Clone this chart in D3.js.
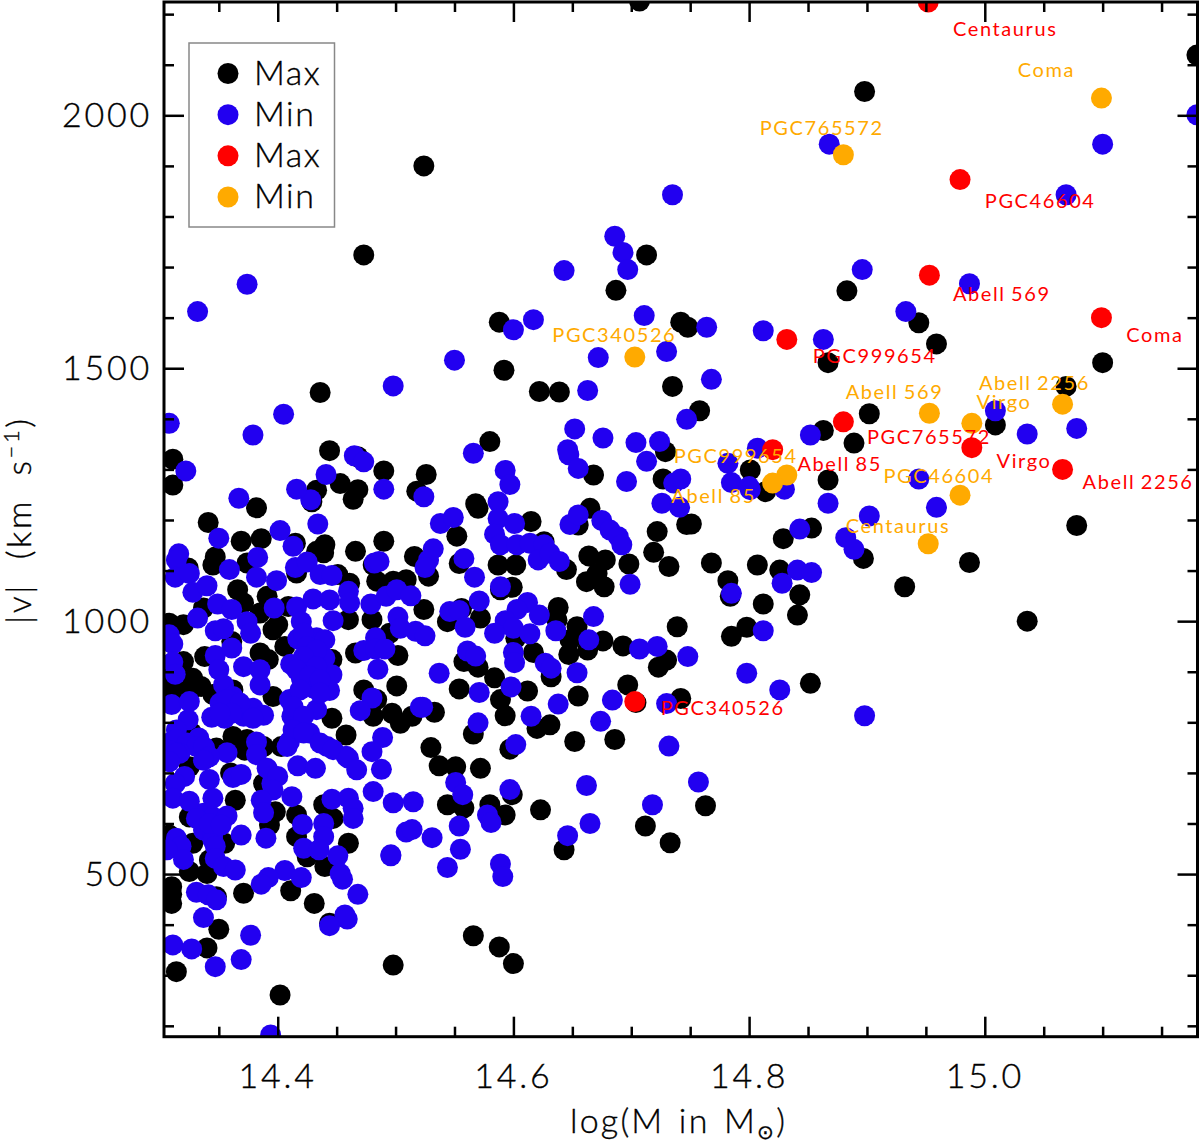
<!DOCTYPE html>
<html>
<head>
<meta charset="utf-8">
<title>v vs mass</title>
<script src="https://d3js.org/d3.v7.min.js"></script>
<style>
  html, body { margin: 0; background: #fff; }
  text { font-family: "Lato", sans-serif; font-weight: 300; fill: #000; }
  .lab { font-weight: 400; font-size: 20px; letter-spacing: 1.6px; word-spacing: -4px; }
  .num { font-size: 34px; letter-spacing: 2.8px; stroke: #000; stroke-width: 0.35px; }
</style>
</head>
<body>
<script>
// [log M, |v|]
const blackMax = [[14.382,1224],[14.341,1195],[14.369,1158],[14.386,1163],[14.415,1154],[14.440,1151],[14.433,1138],[14.439,1135],[14.466,1138],[14.490,1158],[14.516,1128],[14.347,1127],[14.345,1111],[14.374,1115],[14.481,1111],[14.324,1105],[14.416,1095],[14.451,1092],[14.461,1075],[14.484,1079],[14.498,1079],[14.509,1082],[14.366,1062],[14.391,1049],[14.409,1029],[14.371,1036],[14.308,996],[14.320,993],[14.337,1026],[14.385,1016],[14.400,993],[14.396,983],[14.460,1003],[14.480,1003],[14.406,950],[14.495,976],[14.338,930],[14.361,960],[14.385,937],[14.392,924],[14.466,937],[14.502,932],[14.320,920],[14.328,887],[14.335,871],[14.311,874],[14.446,924],[14.362,864],[14.396,851],[14.473,864],[14.501,872],[14.484,845],[14.497,818],[14.504,798],[14.514,812],[14.481,812],[14.446,808],[14.458,775],[14.362,772],[14.348,749],[14.403,752],[14.388,752],[14.327,779],[14.374,766],
[14.325,712],[14.364,646],[14.388,679],[14.325,613],[14.398,623],[14.393,597],[14.416,617],[14.439,637],[14.447,610],[14.416,574],[14.328,561],[14.355,561],[14.460,561],[14.308,577],[14.425,534],[14.440,515],[14.342,528],[14.325,505],[14.340,501],[14.310,475],[14.310,442],[14.371,462],[14.411,467],[14.431,442],[14.348,455],[14.444,403],[14.350,391],[14.340,354],[14.314,307],[14.498,320],[14.402,261],[14.306,455],
[14.568,1232],[14.570,1223],[14.665,1223],[14.722,1177],[14.747,1191],[14.615,1197],[14.552,1168],[14.626,1157],[14.655,1190],[14.719,1136],[14.732,1108],[14.554,1114],[14.587,1111],[14.602,1111],[14.664,1129],[14.678,1121],[14.698,1113],[14.645,1102],[14.528,1089],[14.662,1078],[14.677,1068],[14.671,1094],[14.599,1067],[14.589,1062],[14.524,1023],[14.638,1027],[14.572,1006],[14.556,1025],[14.544,999],[14.654,989],[14.637,1002],[14.676,961],[14.693,951],[14.647,934],[14.648,963],[14.602,966],[14.617,938],[14.663,943],[14.739,989],[14.730,923],[14.723,909],[14.558,920],[14.570,909],[14.584,888],[14.632,890],[14.612,862],[14.655,852],[14.554,866],[14.589,845],[14.697,874],[14.742,847],[14.704,839],[14.533,820],[14.593,813],[14.631,795],[14.620,788],[14.566,777],[14.652,762],[14.686,766],[14.530,750],[14.597,747],[14.537,714],[14.551,712],[14.572,709],
[14.544,637],[14.558,631],[14.580,637],[14.593,617],[14.599,657],[14.623,627],[14.643,548],[14.712,595],[14.733,562],[14.763,635],[14.566,378],[14.588,356],[14.600,323],
[14.473,1724],[14.436,1452],[14.444,1337],[14.468,1325],[14.490,1297],[14.526,1290],[14.518,1257],[14.311,1320],[14.311,1269],[14.433,1259],[14.453,1272],[14.468,1260],[14.464,1241],[14.429,1236],
[14.713,1724],[14.687,1654],[14.588,1591],[14.742,1591],[14.748,1581],[14.592,1496],[14.622,1454],[14.639,1453],[14.735,1464],[14.758,1416],[14.580,1355],[14.668,1289],[14.729,1335],[14.727,1281],[14.707,2226],[14.524,1900],
[14.898,2047],[15.180,2119],[14.883,1653],[14.944,1590],[14.959,1548],[15.100,1511],[14.867,1511],[15.069,1464],[14.902,1410],[15.009,1388],[14.863,1377],[14.889,1352],[14.867,1279],[15.078,1189],[14.987,1116],[14.897,1124],[14.853,1184],[14.829,1163],[14.932,1068],[15.036,1000],
[14.801,1299],[14.814,1256],[14.751,1192],[14.768,1115],[14.782,1080],[14.784,1049],[14.807,1111],[14.826,1101],[14.843,1052],[14.812,1034],[14.841,1012],[14.798,988],[14.785,970],[14.852,877],
[14.330,870],[14.345,855],[14.310,850],[14.320,860],[14.305,905],[14.360,700],[14.372,745],[14.310,460]];

const blueMin = [[14.367,1243],[14.428,1240],[14.434,1192],[14.350,1164],[14.402,1179],[14.413,1148],[14.316,1133],[14.314,1121],[14.383,1126],[14.359,1102],[14.382,1087],[14.399,1080],[14.415,1106],[14.425,1117],[14.436,1092],[14.446,1090],[14.482,1115],[14.486,1118],[14.313,1087],[14.325,1094],[14.328,1057],[14.340,1070],[14.349,1034],[14.361,1023],[14.397,1026],[14.416,1028],[14.430,1044],[14.444,1042],[14.460,1059],[14.461,1036],[14.479,1034],[14.492,1049],[14.501,1062],[14.513,1050],[14.332,1006],[14.347,981],[14.354,985],[14.374,999],[14.377,976],[14.420,999],[14.447,1001],[14.502,1008],[14.504,986],[14.517,980],[14.308,973],[14.311,955],[14.417,965],[14.433,967],[14.440,963],[14.483,967],[14.473,942],[14.483,945],[14.491,945],[14.485,905],[14.311,919],[14.313,895],[14.347,932],[14.361,947],[14.350,904],[14.411,915],[14.425,924],[14.440,927],[14.371,910],[14.385,904],[14.385,874],[14.446,894],[14.420,887],[14.354,874],[14.430,868],[14.444,863],[14.310,835],[14.325,841],[14.324,805],[14.314,785],[14.351,838],[14.362,851],[14.344,810],[14.355,808],[14.371,812],[14.379,828],[14.388,814],[14.410,845],[14.412,812],[14.433,825],[14.480,848],[14.470,823],[14.521,830],[14.489,770],[14.382,761],[14.410,762],[14.427,779],[14.442,752],[14.333,769],[14.338,749],[14.357,740],[14.308,759],[14.306,746],[14.458,733],[14.480,742],[14.382,736],
[14.422,976],[14.425,950],[14.433,943],[14.422,930],[14.433,910],[14.416,904],[14.427,891],[14.436,884],[14.419,864],[14.436,858],[14.357,845],[14.368,838],[14.361,818],[14.351,818],[14.379,808],[14.413,831],[14.422,812],[14.413,785],[14.422,779],[14.408,752],[14.436,759],[14.447,746],[14.314,766],[14.323,759],[14.331,752],[14.317,739],[14.308,745],[14.306,725],[14.314,739],[14.337,752],[14.342,732],[14.337,620],[14.345,613],[14.337,587],[14.345,580],[14.345,567],[14.395,679],
[14.308,722],[14.337,725],[14.391,709],[14.400,693],[14.417,714],[14.432,709],[14.460,729],[14.467,706],[14.488,707],[14.321,693],[14.313,679],[14.342,687],[14.362,691],[14.369,697],[14.396,666],[14.386,646],[14.412,653],[14.481,663],[14.498,641],[14.515,643],[14.311,650],[14.325,644],[14.345,650],[14.446,648],[14.460,650],[14.464,630],[14.388,621],[14.464,610],[14.331,610],[14.357,615],[14.342,600],[14.352,597],[14.421,598],[14.439,600],[14.509,583],[14.369,577],[14.390,571],[14.439,574],[14.314,571],[14.318,555],[14.306,548],[14.347,555],[14.422,551],[14.435,548],[14.451,536],[14.496,536],[14.320,529],[14.347,531],[14.354,515],[14.364,508],[14.406,507],[14.392,493],[14.386,480],[14.420,493],[14.453,501],[14.455,490],[14.331,464],[14.341,459],[14.348,449],[14.468,460],[14.337,414],[14.457,419],[14.459,411],[14.444,398],[14.377,379],[14.311,360],[14.327,352],[14.369,331],[14.347,317],[14.394,182],
[14.524,1246],[14.587,1236],[14.587,1203],[14.601,1193],[14.538,1193],[14.549,1205],[14.648,1191],[14.655,1210],[14.675,1199],[14.726,1233],[14.741,1225],[14.682,1180],[14.584,1172],[14.689,1167],[14.692,1151],[14.589,1151],[14.603,1151],[14.614,1154],[14.626,1151],[14.621,1121],[14.631,1134],[14.639,1118],[14.532,1143],[14.528,1121],[14.525,1106],[14.558,1124],[14.567,1087],[14.589,1068],[14.699,1073],[14.571,1040],[14.612,1037],[14.603,1023],[14.546,1019],[14.554,1021],[14.622,1012],[14.668,1009],[14.559,988],[14.593,1001],[14.600,986],[14.584,976],[14.614,975],[14.636,981],[14.525,971],[14.664,963],[14.561,941],[14.568,931],[14.600,938],[14.601,918],[14.627,917],[14.632,907],[14.537,897],[14.654,898],[14.598,870],[14.571,859],[14.638,836],[14.684,844],[14.730,837],[14.523,830],[14.615,812],[14.570,799],[14.674,802],[14.732,753],[14.602,756],[14.748,930],[14.707,945],[14.722,950],
[14.757,682],[14.662,675],[14.551,681],[14.597,667],[14.718,637],[14.665,600],[14.646,576],[14.589,520],[14.591,495],[14.544,513],[14.555,549],[14.554,595],[14.578,617],[14.581,602],[14.531,572],[14.514,588],[14.496,538],[14.557,657],
[14.374,1666],[14.332,1612],[14.550,1516],[14.498,1465],[14.405,1409],[14.308,1391],[14.379,1368],[14.322,1297],[14.465,1327],[14.473,1315],[14.441,1290],[14.490,1261],[14.416,1261],
[14.735,1843],[14.686,1761],[14.693,1729],[14.697,1695],[14.643,1693],[14.711,1604],[14.617,1596],[14.600,1576],[14.764,1581],[14.730,1533],[14.672,1521],[14.663,1456],[14.768,1478],[14.747,1399],[14.652,1380],[14.676,1362],[14.704,1353],[14.724,1355],[14.646,1339],[14.647,1329],[14.566,1332],[14.655,1302],[14.593,1298],[14.597,1270],[14.713,1316],[14.782,1312],[14.696,1276],[14.742,1281],[14.736,1273],[14.785,1274],[14.800,1266],
[14.852,1368],[14.807,1342],[14.801,1260],[14.830,1261],[14.944,1281],[14.867,1233],[14.902,1208],[14.843,1182],[14.882,1165],[14.889,1142],[14.841,1101],[14.853,1096],[14.828,1075],[14.785,1055],[14.812,981],[14.798,897],[14.826,864],[14.898,813],
[14.959,1225],[15.009,1416],[15.036,1370],[15.078,1381],[14.868,1943],[15.069,1843],[15.100,1943],[15.180,2001],[14.896,1695],[14.987,1667],[14.933,1612],[14.812,1574],[14.863,1557]];

const clusterNames = ["Centaurus","Coma","PGC46604","Abell 569","PGC999654","PGC765572","Abell 85","Virgo","Abell 2256","PGC340526"];
const clusterMass = [14.952,15.099,14.979,14.953,14.832,14.880,14.820,14.989,15.066,14.703];
const clusterMax = [2224,1600,1873,1684,1557,1394,1339,1343,1300,841];
const clusterMin = [1153,2034,1249,1411,1289,1922,1273,1391,1429,1522];
// where the names sit, in data units
const maxLabelX = [14.973,15.120,15.000,14.973,14.854,14.900,14.841,15.010,15.083,14.725];
const maxLabelY = [2157,1552,1817,1633,1510,1350,1297,1303,1261,815];
const minLabelX = [14.882,15.028,14.914,14.882,14.736,14.809,14.734,14.993,14.995,14.633];
const minLabelY = [1175,2076,1273,1439,1313,1961,1234,1420,1457,1552];

const legendNames = ["Max","Min","Max","Min"];
const legendColors = ["#000000","#2200f0","#ff0000","#ffaa00"];
const xMajor = [14.4,14.6,14.8,15.0];
const xMinor = [14.35,14.45,14.5,14.55,14.65,14.7,14.75,14.85,14.9,14.95,15.05,15.1,15.15];
const yMajor = [500,1000,1500,2000];
const yMinor = [200,300,400,600,700,800,900,1100,1200,1300,1400,1600,1700,1800,1900,2100,2200];

const width = 1200, height = 1143;
const plotL = 164, plotR = 1197.5, plotT = 2, plotB = 1036.7;
const r = 10.5;

const x = d3.scaleLinear().domain([14.3035, 15.1805]).range([plotL, plotR]);
const y = d3.scaleLinear().domain([178.5, 2224]).range([plotB, plotT]);

const svg = d3.select("body").append("svg")
  .attr("width", width).attr("height", height)
  .style("display", "block");

svg.append("clipPath").attr("id", "plot").append("rect")
  .attr("x", plotL).attr("y", plotT).attr("width", plotR - plotL).attr("height", plotB - plotT);

const marks = svg.append("g").attr("clip-path", "url(#plot)");

function dots(pts, color) {
  marks.append("g").selectAll("circle").data(pts).enter().append("circle")
    .attr("cx", d => x(d[0])).attr("cy", d => y(d[1])).attr("r", r).attr("fill", color);
}
function names(lx, ly, color) {
  svg.append("g").selectAll("text").data(clusterNames).enter().append("text")
    .attr("class", "lab")
    .attr("x", (d, i) => x(lx[i])).attr("y", (d, i) => y(ly[i]))
    .style("fill", color)
    .style("white-space", "pre")
    .text(d => d.replace(" ", "  "));
}

dots(blackMax, legendColors[0]);
dots(blueMin, legendColors[1]);
dots(clusterMass.map((m, i) => [m, clusterMax[i]]), legendColors[2]);
dots(clusterMass.map((m, i) => [m, clusterMin[i]]), legendColors[3]);
names(maxLabelX, maxLabelY, legendColors[2]);
names(minLabelX, minLabelY, legendColors[3]);

// frame and ticks, mirrored on all four sides
function drawAxis(gen, tx, ty, vals, len) {
  const g = svg.append("g").attr("transform", `translate(${tx},${ty})`)
    .call(gen.tickValues(vals).tickSizeInner(-len).tickSizeOuter(0).tickFormat(""));
  g.selectAll("line").attr("stroke", "#000").attr("stroke-width", 2.5);
  g.select(".domain").remove();
  return g;
}
drawAxis(d3.axisBottom(x), 0, plotB, xMinor, 10);
drawAxis(d3.axisBottom(x), 0, plotB, xMajor, 20);
drawAxis(d3.axisTop(x), 0, plotT, xMinor, 10);
drawAxis(d3.axisTop(x), 0, plotT, xMajor, 20);
drawAxis(d3.axisLeft(y), plotL, 0, yMinor, 10);
drawAxis(d3.axisLeft(y), plotL, 0, yMajor, 20);
drawAxis(d3.axisRight(y), plotR, 0, yMinor, 10);
drawAxis(d3.axisRight(y), plotR, 0, yMajor, 20);

svg.append("rect")
  .attr("x", plotL).attr("y", plotT).attr("width", plotR - plotL).attr("height", plotB - plotT)
  .attr("fill", "none").attr("stroke", "#000").attr("stroke-width", 3);

svg.append("g").selectAll("text").data(xMajor).enter().append("text")
  .attr("class", "num").attr("text-anchor", "middle")
  .attr("x", d => x(d)).attr("y", 1088)
  .text(d => d.toFixed(1));

svg.append("g").selectAll("text").data(yMajor).enter().append("text")
  .attr("class", "num").attr("text-anchor", "end")
  .attr("x", 152).attr("y", d => y(d) + 12)
  .text(d => d);

// axis titles
const xTitle = svg.append("text").attr("class", "num").attr("x", 570).attr("y", 1133)
  .style("white-space", "pre").style("letter-spacing", "2.2px").style("word-spacing", "3px");
xTitle.append("tspan").text("log(M in M");
xTitle.append("tspan").attr("dy", 6).style("font-size", "20px").style("font-family", "DejaVu Sans").text("\u2299");
xTitle.append("tspan").attr("dy", -6).text(")");

const yTitle = svg.append("text").attr("class", "num")
  .attr("transform", "translate(31,624) rotate(-90)")
  .style("white-space", "pre").style("letter-spacing", "2.6px");
yTitle.append("tspan").text("|v|  (km  s");
yTitle.append("tspan").attr("dy", -12).style("font-size", "22px").text("\u22121");
yTitle.append("tspan").attr("dy", 12).text(")");

// legend
const lgX = 189, lgY = 43;
svg.append("rect").attr("x", lgX).attr("y", lgY).attr("width", 145.5).attr("height", 184)
  .attr("fill", "#fff").attr("stroke", "#888").attr("stroke-width", 1.5);
const row = d3.scalePoint().domain(d3.range(4)).range([73.5, 197]);
legendNames.forEach((n, i) => {
  svg.append("circle").attr("cx", 228).attr("cy", row(i)).attr("r", r).attr("fill", legendColors[i]);
  svg.append("text").attr("class", "num").style("letter-spacing", "1.5px")
    .attr("x", 254).attr("y", row(i) + 11).text(n);
});
</script>
</body>
</html>
